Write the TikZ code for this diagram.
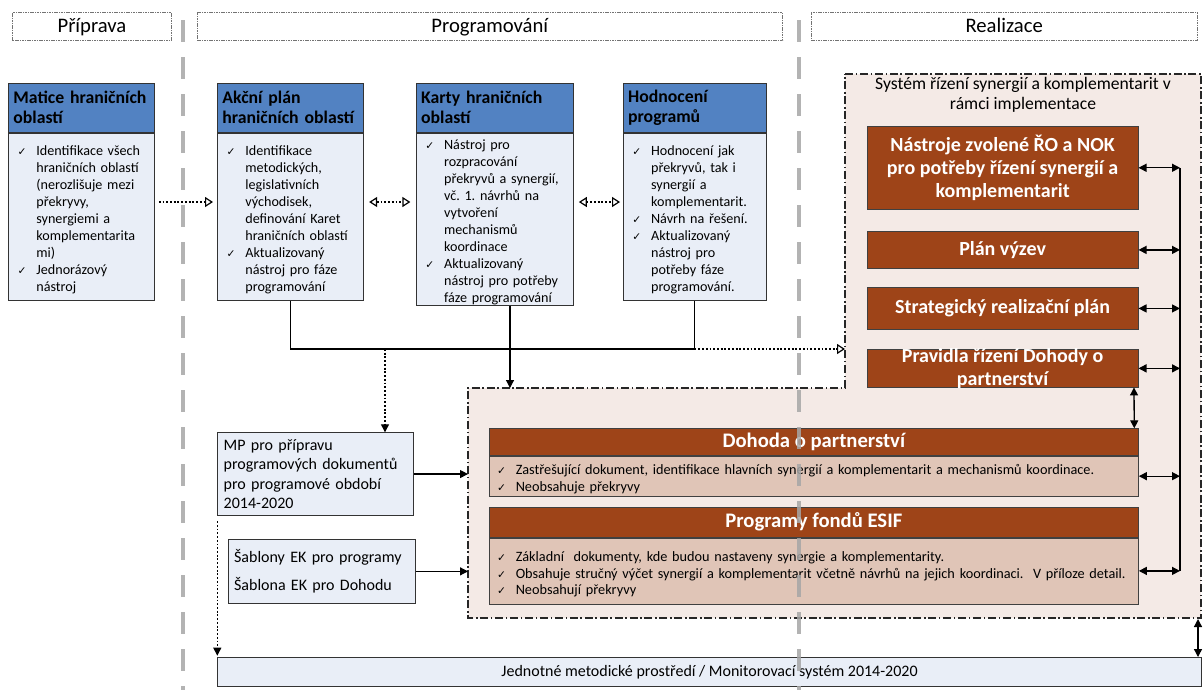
\documentclass[tikz,border=0pt]{standalone}
\usepackage{fontspec}
\setmainfont{Carlito}
\newfontfamily\chkfont{DejaVu Sans}
\usetikzlibrary{arrows.meta}

\definecolor{hdrblue}{RGB}{82,130,194}
\definecolor{boxblue}{RGB}{233,238,247}
\definecolor{brn}{RGB}{158,68,24}
\definecolor{brnlight}{RGB}{224,197,183}
\definecolor{regpink}{RGB}{244,234,230}
\definecolor{sepgray}{RGB}{166,166,166}

% check item and continuation line
\newcommand{\ck}{\par\noindent\makebox[19pt][l]{\hspace{5pt}{\chkfont\fontsize{8}{8}\selectfont ✓}}}
\newcommand{\nl}{\newline\hspace*{19pt}}

\tikzset{every picture/.style={line width=0.75pt}}
\tikzset{
  phase/.style={draw=black!55, dash pattern=on 1.2pt off 0.6pt, line width=0.5pt, anchor=north west, inner sep=0pt, minimum height=21pt, text height=15pt, text depth=6pt, font=\fontsize{15.5}{18}\selectfont},
  hdr/.style={fill=hdrblue, draw=black!80, line width=0.6pt, anchor=north west, inner xsep=3.75pt, inner ysep=0pt, minimum height=36.75pt, align=left, font=\bfseries\fontsize{13.3}{15}\selectfont},
  body/.style={fill=boxblue, draw=black!80, line width=0.6pt, anchor=north west, inner xsep=2pt, inner ysep=0pt, minimum height=125.5pt, align=left, font=\frenchspacing\fontsize{10.6}{12.75}\selectfont},
  brnbox/.style={fill=brn, draw=black!75, line width=0.6pt, text=white, anchor=north west, inner sep=0pt, minimum width=203.25pt, align=center, font=\bfseries\fontsize{15}{17.5}\selectfont},
  brnhdr/.style={fill=brn, draw=black!75, line width=0.6pt, text=white, anchor=north west, inner sep=0pt, minimum width=487pt, font=\bfseries\fontsize{15.5}{18}\selectfont},
  brnbody/.style={fill=brnlight, draw=black!75, line width=0.6pt, anchor=north west, inner xsep=1pt, inner ysep=0pt, text width=485pt, align=left, font=\frenchspacing\fontsize{10.7}{12.5}\selectfont},
  lbox/.style={fill=boxblue, draw=black!80, line width=0.6pt, anchor=north west, inner xsep=4.5pt, inner ysep=0pt, align=left, font=\fontsize{12}{14.6}\selectfont},
  region/.style={fill=regpink, draw=black!85, line width=0.9pt, dash pattern=on 6pt off 2pt on 1.2pt off 2pt},
  sep/.style={draw=sepgray, line width=2.6pt, dash pattern=on 16.5pt off 11.25pt, draw opacity=0.85},
  dotarr/.style={line width=0.9pt, dash pattern=on 1.4pt off 1.4pt, -{Triangle[open,length=6pt,width=7.5pt]}},
  dotdbl/.style={line width=0.9pt, dash pattern=on 1.4pt off 1.4pt, {Triangle[open,length=6pt,width=7.5pt]}-{Triangle[open,length=6pt,width=7.5pt]}},
  dotarrF/.style={line width=0.9pt, dash pattern=on 1.4pt off 1.4pt, -{Triangle[length=6pt,width=6pt]}},
  flow/.style={line width=0.9pt, -{Triangle[length=6pt,width=6pt]}},
  dbl/.style={line width=1pt, {Triangle[length=6pt,width=6pt]}-{Triangle[length=6pt,width=6pt]}}
}

\begin{document}
\begin{tikzpicture}[x=0.75pt,y=0.75pt,yscale=-1,xscale=1]
\useasboundingbox (0,0) rectangle (1203,690);

% phase headers
\node[phase, minimum width=119pt] (prip) at (12.3,12.3) {Příprava};
\node[phase, minimum width=439.2pt] (prog) at (196.7,12.3) {Programování};
\node[phase, minimum width=289.7pt] (real) at (810.7,12.3) {Realizace};

% programming tools
\node[hdr, text width=102pt] (matH) at (8,82.7) {Matice hraničních\\oblastí};
\node[body, text width=105.5pt] (matB) at (matH.south west) {\ck Identifikace všech\nl hraničních oblastí\nl (nerozlišuje mezi\nl překryvy,\nl synergiemi a\nl komplementarita\nl mi)\ck Jednorázový\nl nástroj};

\node[hdr, text width=102pt] (akcH) at (217,82.7) {Akční plán\\hraničních oblastí};
\node[body, text width=105.5pt] (akcB) at (akcH.south west) {\ck Identifikace\nl metodických,\nl legislativních\nl východisek,\nl definování Karet\nl hraničních oblastí\ck Aktualizovaný\nl nástroj pro fáze\nl programování};

\node[hdr, text width=110.25pt] (karH) at (415.7,82.7) {Karty hraničních\\oblastí};
\node[body, text width=113.75pt] (karB) at (karH.south west) {\ck Nástroj pro\nl rozpracování\nl překryvů a synergií,\nl vč. 1. návrhů na\nl vytvoření\nl mechanismů\nl koordinace\ck Aktualizovaný\nl nástroj pro potřeby\nl fáze programování};

\node[hdr, text width=99.75pt] (hodH) at (622.7,82.7) {Hodnocení\\programů};
\node[body, text width=103.25pt] (hodB) at (hodH.south west) {\ck Hodnocení jak\nl překryvů, tak i\nl synergií a\nl komplementarit.\ck Návrh na řešení.\ck Aktualizovaný\nl nástroj pro\nl potřeby fáze\nl programování.};

% implementation region
\draw[region] (845,74) -- (1201,74) -- (1201,618) -- (468,618) -- (468,388) -- (845,388) -- cycle;
\node[align=center, inner sep=0pt, font=\fontsize{13.2}{15}\selectfont] (sysT) at (1023,95) {Systém řízení synergií a komplementarit v\\rámci implementace};

\node[brnbox, minimum height=62.5pt] (nastr) at (866.7,125.7) {Nástroje zvolené ŘO a NOK\\pro potřeby řízení synergií a\\komplementarit};
\node[brnbox, minimum height=28.2pt] (plan) at (866.7,230.7) {Plán výzev};
\node[brnbox, minimum height=32pt] (strat) at (866.7,286.7) {Strategický realizační plán};
\node[brnbox, minimum height=28pt] (prav) at (866.7,349.3) {};
\node[align=center, inner sep=0pt, text=white, font=\bfseries\fontsize{15}{17.5}\selectfont] (pravT) at (prav.center) {Pravidla řízení Dohody o\\partnerství};

\node[brnhdr, minimum height=20pt] (dohH) at (488.7,428.3) {Dohoda o partnerství};
\node[brnbody, minimum height=30pt] (dohB) at (dohH.south west) {\ck Zastřešující dokument, identifikace hlavních synergií a komplementarit a mechanismů koordinace.\ck Neobsahuje překryvy};
\node[brnhdr, minimum height=22.5pt] (prgH) at (488.7,506.7) {Programy fondů ESIF};
\node[brnbody, minimum height=49.5pt] (prgB) at (prgH.south west) {\ck Základní\ \ dokumenty, kde budou nastaveny synergie a komplementarity.\ck Obsahuje stručný výčet synergií a komplementarit včetně návrhů na jejich koordinaci.\ \ V příloze detail.\ck Neobsahují překryvy};

% methodology boxes
\node[lbox, text width=138pt, minimum height=62pt] (mp) at (217.3,432.3) {MP pro přípravu\\programových dokumentů\\pro programové období\\2014-2020};
\node[lbox, text width=131.5pt, minimum height=47.5pt] (sabl) at (227.7,539.3) {Šablony EK pro programy\\[6.6pt]Šablona EK pro Dohodu};
\node[lbox, minimum width=737.8pt, minimum height=21.5pt] (jmp) at (217.3,657) {Jednotné metodické prostředí / Monitorovací systém 2014-2020};

% helper coordinates
\coordinate (rowA) at (0,202);
\coordinate (junc) at (385,349);
\coordinate (kartX) at (510,349);
\coordinate (regTop) at (510,388);
\coordinate (regLeft) at (468,0);
\coordinate (regUpL) at (845,349);
\coordinate (bus) at (1180,0);
\coordinate (regBot) at (1198,619);

% connectors
\draw[dotarr, shorten <=3pt, shorten >=3pt] (matB.east |- rowA) -- (akcB.west |- rowA);
\draw[dotdbl, shorten <=4pt, shorten >=4pt] (akcB.east |- rowA) -- (karB.west |- rowA);
\draw[dotdbl, shorten <=4pt, shorten >=2pt] (karB.east |- rowA) -- (hodB.west |- rowA);
\draw[line width=0.9pt] (akcB.south) -- (akcB.south |- junc) -- (hodB.south |- junc) -- (hodB.south);
\draw[flow] (karB.south -| kartX) -- (regTop);
\draw[dotarrF] (junc) -- (junc |- mp.north);
\draw[dotarr] (hodB.south |- junc) -- (regUpL);
\draw[flow] (mp.east) -- (mp.east -| regLeft);
\draw[flow] (sabl.east) -- (sabl.east -| regLeft);
\draw[dotarrF, shorten <=4pt, shorten >=1pt] (mp.south west) -- (mp.south west |- jmp.north);

\draw[line width=1.1pt] (nastr.east -| bus) -- (prgB.east -| bus);
\draw[dbl] (nastr.east) -- (nastr.east -| bus);
\draw[dbl] (plan.east) -- (plan.east -| bus);
\draw[dbl] (strat.east) -- (strat.east -| bus);
\draw[dbl] (prav.east) -- (prav.east -| bus);
\draw[dbl] (dohB.east) -- (dohB.east -| bus);
\draw[dbl] (prgB.east) -- (prgB.east -| bus);
\draw[dbl] ([xshift=-3.4pt]prav.south east) -- ([xshift=-3.4pt]dohH.north east);
\draw[dbl] (regBot) -- (regBot |- jmp.north);

% phase separators
\draw[sep] (183,20) -- (183,690);
\draw[sep] (799,20) -- (799,690);

\end{tikzpicture}
\end{document}
